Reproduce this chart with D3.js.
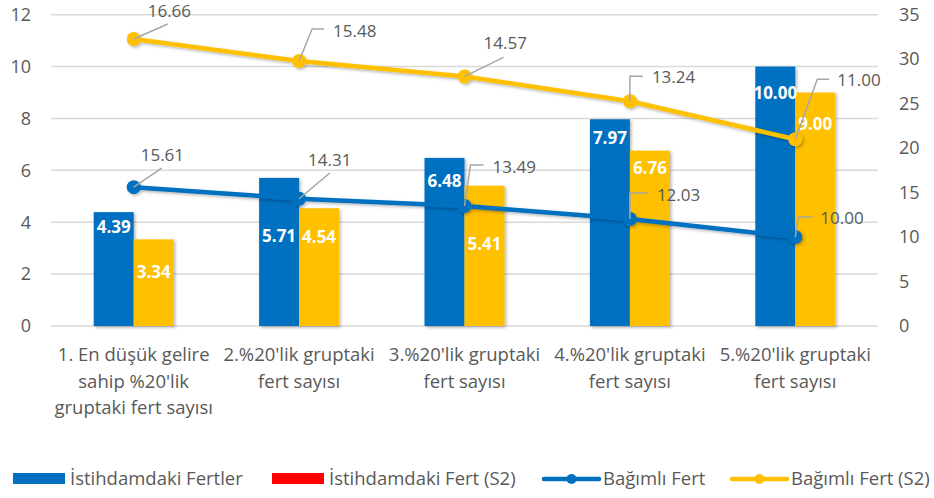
<!DOCTYPE html>
<html>
<head>
<meta charset="utf-8">
<script src="https://cdn.jsdelivr.net/npm/d3@7"></script>
<style>
  body { margin: 0; background: #fff; }
  text { font-family: "Open Sans", sans-serif; fill: #595959; }
</style>
</head>
<body>
<div id="chart"></div>
<script>
// data
var categories = [
  ["1. En düşük gelire", "sahip %20'lik", "gruptaki fert sayısı"],
  ["2.%20'lik gruptaki", "fert sayısı"],
  ["3.%20'lik gruptaki", "fert sayısı"],
  ["4.%20'lik gruptaki", "fert sayısı"],
  ["5.%20'lik gruptaki", "fert sayısı"]
];
var istihdam = [4.39, 5.71, 6.48, 7.97, 10.00];
var istihdamS2 = [3.34, 4.54, 5.41, 6.76, 9.00];
var bagimli = [15.61, 14.31, 13.49, 12.03, 10.00];
var bagimliS2 = [16.66, 15.48, 14.57, 13.24, 11.00];
var leftTicks = [0, 2, 4, 6, 8, 10, 12];
var rightTicks = [0, 5, 10, 15, 20, 25, 30, 35];
var legendNames = ["İstihdamdaki Fertler", "İstihdamdaki Fert (S2)", "Bağımlı Fert", "Bağımlı Fert (S2)"];

var blue = "#0070C0", yellow = "#FFC000", red = "#FF0000";

// label placement (px offsets, hand tuned like the original)
var barLabelDy = [[15, 58, 23, 19, 26], [33, 29, 58, 17, 32]];
var lineLabelPos = [
  // bagimli
  [{dx: 7, dy: -32, lead: [[28, -19]]},
   {dx: 9, dy: -39, lead: [[31, -26]]},
   {dx: 28, dy: -39, lead: [[6, -41], [19, -41]]},
   {dx: 27, dy: -24, lead: [[0, -26], [18, -26]]},
   {dx: 25, dy: -19, lead: [[3, -20], [17, -20]]}],
  // bagimli S2
  [{dx: 14, dy: -27.5, lead: [[34, -15]]},
   {dx: 34, dy: -30, lead: [[13, -32], [25, -32]]},
   {dx: 19, dy: -33, lead: [[39, -19]]},
   {dx: 22, dy: -24, lead: [[0, -25], [13, -25]]},
   {dx: 42, dy: -59, lead: [[22, -60], [34, -60]]}]
];

var width = 934, height = 498;
var plotLeft = 51, plotRight = 878, plotTop = 14.7, plotBottom = 326;
var fs = 17;

var svg = d3.select("#chart").append("svg")
  .attr("width", width).attr("height", height);

var defs = svg.append("defs");
var f = defs.append("filter").attr("id", "shadow")
  .attr("x", "-20%").attr("y", "-20%").attr("width", "140%").attr("height", "140%");
f.append("feDropShadow").attr("dx", 1.5).attr("dy", 1.5).attr("stdDeviation", 1.5)
  .attr("flood-color", "#000").attr("flood-opacity", 0.3);

var x = d3.scaleBand().domain(d3.range(categories.length)).range([plotLeft, plotRight]);
var yL = d3.scaleLinear().domain([0, 12]).range([plotBottom, plotTop]);
var yR = d3.scaleLinear().domain([0, 35]).range([plotBottom, plotTop]);

// gridlines
svg.append("g").selectAll("line").data(leftTicks).enter().append("line")
  .attr("x1", plotLeft).attr("x2", plotRight)
  .attr("y1", function(d) { return yL(d); }).attr("y2", function(d) { return yL(d); })
  .attr("stroke", "#d9d9d9").attr("stroke-width", 1.5);

// axis labels
svg.append("g").selectAll("text").data(leftTicks).enter().append("text")
  .attr("x", 31).attr("y", function(d) { return yL(d); })
  .attr("dy", "0.35em").attr("text-anchor", "end")
  .style("font-size", "18px").text(function(d) { return d; });
svg.append("g").selectAll("text").data(rightTicks).enter().append("text")
  .attr("x", 899).attr("y", function(d) { return yR(d); })
  .attr("dy", "0.35em").attr("text-anchor", "start")
  .style("font-size", "18px").text(function(d) { return d; });

// category labels
var cat = svg.append("g").selectAll("text").data(categories).enter().append("text")
  .attr("x", function(d, i) { return x(i) + x.bandwidth() / 2; })
  .attr("text-anchor", "middle").style("font-size", "18.5px");
cat.selectAll("tspan").data(function(d) { return d; }).enter().append("tspan")
  .attr("x", function() { return d3.select(this.parentNode).attr("x"); })
  .attr("y", function(d, j) { return 355 + j * 26.5; })
  .attr("dy", "0.35em").text(function(d) { return d; });

// bars
var barW = 40;
var barSeries = [{vals: istihdam, color: blue, off: -barW}, {vals: istihdamS2, color: yellow, off: 0}];
barSeries.forEach(function(s, si) {
  var g = svg.append("g");
  g.selectAll("rect").data(s.vals).enter().append("rect")
    .attr("x", function(d, i) { return x(i) + x.bandwidth() / 2 + s.off; })
    .attr("y", function(d) { return yL(d); })
    .attr("width", barW)
    .attr("height", function(d) { return plotBottom - yL(d); })
    .attr("fill", s.color)
    .attr("filter", "url(#shadow)");
});
barSeries.forEach(function(s, si) {
  svg.append("g").selectAll("text").data(s.vals).enter().append("text")
    .attr("x", function(d, i) { return x(i) + x.bandwidth() / 2 + s.off + barW / 2; })
    .attr("y", function(d, i) { return yL(d) + barLabelDy[si][i]; })
    .attr("dy", "0.35em").attr("text-anchor", "middle")
    .style("font-size", fs + "px").style("font-weight", "bold").style("fill", "#fff")
    .text(function(d) { return d.toFixed(2); });
});

// lines (stacked on right axis)
var stacked = bagimli.map(function(d, i) { return d + bagimliS2[i]; });
var lineSeries = [{vals: bagimli, pos: bagimli, color: blue}, {vals: bagimliS2, pos: stacked, color: yellow}];
var cx = function(i) { return x(i) + x.bandwidth() / 2; };
var line = d3.line().x(function(d, i) { return cx(i); }).y(function(d) { return yR(d); });

lineSeries.forEach(function(s, si) {
  var g = svg.append("g").attr("filter", "url(#shadow)");
  g.append("path").datum(s.pos).attr("d", line)
    .attr("fill", "none").attr("stroke", s.color).attr("stroke-width", 4.5)
    .attr("stroke-linejoin", "round");
  g.selectAll("circle").data(s.pos).enter().append("circle")
    .attr("cx", function(d, i) { return cx(i); }).attr("cy", function(d) { return yR(d); })
    .attr("r", 7).attr("fill", s.color);
});

lineSeries.forEach(function(s, si) {
  var g = svg.append("g");
  s.pos.forEach(function(p, i) {
    var px = cx(i), py = yR(p), lp = lineLabelPos[si][i];
    var pts = [[px, py]].concat(lp.lead.map(function(o) { return [px + o[0], py + o[1]]; }));
    g.append("path").attr("d", d3.line()(pts))
      .attr("fill", "none").attr("stroke", "#a6a6a6").attr("stroke-width", 1.5);
    g.append("text").attr("x", px + lp.dx).attr("y", py + lp.dy)
      .attr("dy", "0.35em").style("font-size", fs + "px")
      .text(s.vals[i].toFixed(2));
  });
});

// legend
var lg = svg.append("g");
var legendItems = [
  {name: legendNames[0], type: "rect", color: blue, x: 13},
  {name: legendNames[1], type: "rect", color: red, x: 272},
  {name: legendNames[2], type: "line", color: blue, x: 544},
  {name: legendNames[3], type: "line", color: yellow, x: 732}
];
var ly = 479;
legendItems.forEach(function(d) {
  if (d.type == "rect") {
    lg.append("rect").attr("x", d.x).attr("y", ly - 6).attr("width", 52).attr("height", 11).attr("fill", d.color);
  } else {
    lg.append("line").attr("x1", d.x).attr("x2", d.x + 55).attr("y1", ly).attr("y2", ly)
      .attr("stroke", d.color).attr("stroke-width", 4.5).attr("stroke-linecap", "round");
    lg.append("circle").attr("cx", d.x + 27.5).attr("cy", ly).attr("r", 5).attr("fill", d.color);
  }
  lg.append("text").attr("x", d.x + (d.type == "rect" ? 57 : 59)).attr("y", ly)
    .attr("dy", "0.35em").style("font-size", "18.5px").text(d.name);
});
</script>
</body>
</html>
